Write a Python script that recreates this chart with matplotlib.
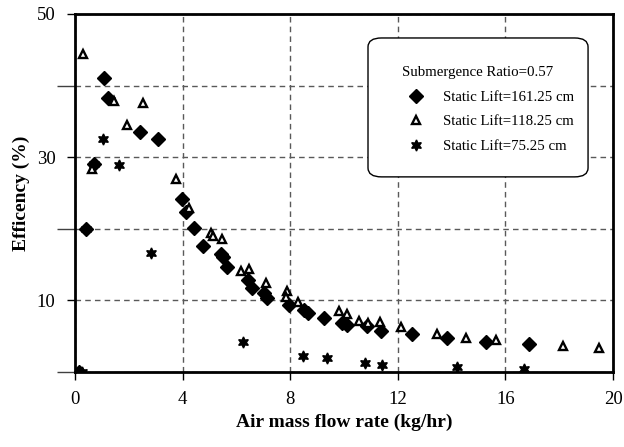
import numpy as np
import matplotlib
matplotlib.use("Agg")
import matplotlib.pyplot as plt
from matplotlib.patches import FancyBboxPatch
from matplotlib.ticker import MultipleLocator, FixedLocator

plt.rcParams["font.family"] = ["Liberation Serif", "DejaVu Serif"]

# Static lift = 161.25 cm (filled diamonds)
lift161_x = [0.15, 0.40, 0.71, 1.07, 1.23, 2.43, 3.10, 3.99, 4.13, 4.42, 4.77, 5.43,
             5.49, 5.66, 6.43, 6.59, 7.03, 7.15, 7.96, 8.51, 8.65, 9.26, 9.91, 10.10,
             10.84, 11.36, 12.53, 13.84, 15.28, 16.89]
lift161_y = [0.0, 20.0, 29.1, 41.1, 38.3, 33.5, 32.5, 24.1, 22.4, 20.1, 17.6, 16.5,
             16.0, 14.7, 12.8, 11.8, 11.0, 10.4, 9.4, 8.7, 8.2, 7.6, 6.9, 6.6,
             6.4, 5.7, 5.3, 4.7, 4.2, 3.9]

# Static lift = 118.25 cm (open triangles)
lift118_x = [0.31, 0.62, 1.44, 1.92, 2.53, 3.77, 4.24, 5.06, 5.14, 5.48, 6.16, 6.47,
             7.09, 7.87, 7.83, 8.29, 9.81, 10.10, 10.57, 10.90, 11.34, 12.10, 13.47,
             14.54, 15.65, 18.13, 19.49]
lift118_y = [44.4, 28.3, 37.8, 34.5, 37.5, 27.0, 22.9, 19.4, 19.0, 18.6, 14.1, 14.4,
             12.4, 11.3, 10.5, 9.8, 8.5, 8.1, 7.1, 6.9, 7.0, 6.3, 5.3,
             4.8, 4.4, 3.7, 3.4]

# Static lift = 75.25 cm (stars)
lift75_x = [0.25, 0.40, 0.71, 1.05, 1.64, 2.83, 6.26, 8.46, 9.36, 10.77, 11.41, 14.19, 16.70]
lift75_y = [0.0, 20.0, 29.1, 32.5, 28.9, 16.6, 4.2, 2.2, 1.9, 1.2, 1.0, 0.65, 0.4]

labels = ["Static Lift=161.25 cm", "Static Lift=118.25 cm", "Static Lift=75.25 cm"]
star6 = (6, 1, 0)

fig = plt.figure(figsize=(6.24, 4.47), dpi=100)
ax = fig.add_axes([0.1202, 0.1678, 0.8622, 0.8009])

ax.plot(lift161_x, lift161_y, ls="none", marker="D", ms=6.8, color="black",
        label=labels[0], zorder=3)
ax.plot(lift118_x, lift118_y, ls="none", marker="^", ms=5.6, mfc="white", mec="black",
        mew=1.7, label=labels[1], zorder=3)
ax.plot(lift75_x, lift75_y, ls="none", marker=star6, ms=8, color="black",
        label=labels[2], zorder=3)

ax.set_xlim(0, 20)
ax.set_ylim(0, 50)
ax.xaxis.set_major_locator(MultipleLocator(4))
ax.yaxis.set_major_locator(FixedLocator([10, 30, 50]))
ax.yaxis.set_minor_locator(FixedLocator([0, 20, 40]))

ax.tick_params(axis="both", which="major", direction="out", length=6, width=1,
               labelsize=13.5, colors="black", pad=8)
ax.tick_params(axis="y", which="minor", direction="out", length=13, width=1,
               color="0.25")

ax.grid(True, which="major", axis="x", ls=(0, (4, 3)), lw=1, color="0.35")
ax.grid(True, which="both", axis="y", ls=(0, (4, 3)), lw=1, color="0.35")
ax.set_axisbelow(True)

for s in ax.spines.values():
    s.set_linewidth(2)
    s.set_color("black")

ax.set_xlabel("Air mass flow rate (kg/hr)", fontsize=14, fontweight="bold", labelpad=4)
ax.set_ylabel("Efficency (%)", fontsize=14, fontweight="bold", labelpad=5)

# rounded legend box
box = FancyBboxPatch((0.5446, 0.545), 0.409, 0.388, transform=ax.transAxes,
                     boxstyle="round,pad=0,rounding_size=0.025",
                     fc="white", ec="black", lw=1, zorder=4)
ax.add_patch(box)

leg = ax.legend(loc="upper left", bbox_to_anchor=(0.6078, 0.854),
                title="Submergence Ratio=0.57", fontsize=10.7, title_fontsize=10.7,
                frameon=False, borderpad=0, labelspacing=0.75, handlelength=1.9,
                handletextpad=0.85, borderaxespad=0, alignment="left")
leg.set_zorder(5)

fig.savefig("out.png", dpi=100)
